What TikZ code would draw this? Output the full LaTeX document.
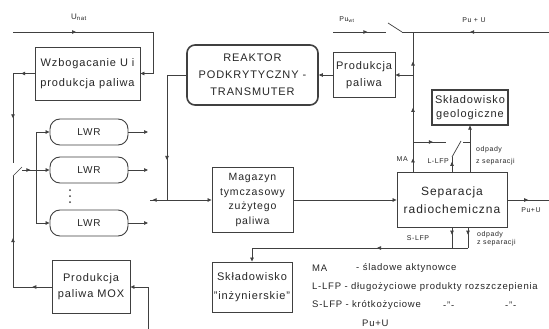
\documentclass[tikz,border=0pt]{standalone}
\usepackage{fontspec}
\setmainfont{Liberation Sans}[LetterSpace=8]
\usetikzlibrary{arrows.meta,decorations.markings}
\tikzset{
  ln/.style={draw=black!75, line width=0.7pt},
  tip/.style={-{Triangle[length=4pt,width=3.5pt]}},
  boxn/.style={draw=black!75, line width=0.9pt, align=center, inner sep=0pt, text=black!85},
  ar/.style={postaction={decorate,decoration={markings,mark=at position #1 with {\arrow{Triangle[length=4pt,width=3.5pt]}}}}},
  lbl/.style={inner sep=0pt, text=black!85, font=\fontsize{7}{8}\selectfont},
  leg/.style={inner sep=0pt, anchor=west, text=black!85, font=\fontsize{9.5}{11}\selectfont},
}
\begin{document}
\begin{tikzpicture}[x=1pt,y=-1pt]
\useasboundingbox (0,0) rectangle (549,329);
\fill[white] (0,0) rectangle (549,329);
% boxes
\node[boxn, minimum width=105pt, minimum height=53pt, font=\fontsize{11}{20}\selectfont] (wz) at (87.5,73.5) {Wzbogacanie U i\\produkcja paliwa};
\node[boxn, rounded corners=8pt, line width=1.6pt, minimum width=131pt, minimum height=60pt, font=\fontsize{11}{17}\selectfont] (rk) at (252.5,75) {REAKTOR\\PODKRYTYCZNY -\\TRANSMUTER};
\node[boxn, minimum width=62pt, minimum height=45pt, font=\fontsize{11}{17}\selectfont] (prod) at (364,75) {Produkcja\\paliwa};
\node[boxn, line width=1.2pt, minimum width=76pt, minimum height=35pt, font=\fontsize{11}{14}\selectfont] (geo) at (470,107.5) {Składowisko\\geologiczne};
\node[boxn, rounded corners=10pt, minimum width=78pt, minimum height=26pt, font=\fontsize{10}{12}\selectfont] (lwr1) at (89,132) {LWR};
\node[boxn, rounded corners=10pt, minimum width=78pt, minimum height=26pt, font=\fontsize{10}{12}\selectfont] (lwr2) at (89,170) {LWR};
\node[boxn, rounded corners=10pt, minimum width=78pt, minimum height=26pt, font=\fontsize{10}{12}\selectfont] (lwr3) at (89,223) {LWR};
\node[boxn, minimum width=81pt, minimum height=65pt, font=\fontsize{10.5}{14.5}\selectfont] (mag) at (252.5,200) {Magazyn\\tymczasowy\\zużytego\\paliwa};
\node[boxn, minimum width=110pt, minimum height=55pt, font=\fontsize{12}{18}\selectfont] (sep) at (452,200) {Separacja\\radiochemiczna};
\node[boxn, minimum width=80pt, minimum height=50pt, font=\fontsize{11}{19}\selectfont] (inz) at (252,287) {Składowisko\\"inżynierskie"};
\node[boxn, minimum width=78pt, minimum height=53pt, font=\fontsize{11}{16}\selectfont] (mox) at (91,287) {Produkcja\\paliwa MOX};
% dots
\fill[black!75] (70,190) circle (1pt) (70,196) circle (1pt) (70,202) circle (1pt);
% U_nat
\coordinate (u0) at (13,32); \coordinate (u1) at (153,32);
\draw[ln, ar=0.45] (u0) -- (u1);
\draw[ln, tip] (u1) |- (wz.east);
\node[lbl, font=\fontsize{8}{9}\selectfont] (unat) at (79,17) {U\textsubscript{nat}};
% left loop
\coordinate (l0) at (13,73.5); \coordinate (sw1) at (13,163);
\draw[ln, ar=0.62] (wz.west) -- (l0);
\draw[ln, ar=0.5] (l0) -- (sw1);
\coordinate (sw2) at (13,176); \coordinate (swt) at (22,167);
\draw[ln] (sw2) -- (swt);
\coordinate (h0) at (22,170); \coordinate (bus2) at (36,170);
\draw[ln, ar=0.6] (h0) -- (bus2);
\coordinate (b1) at (36,132); \coordinate (b3) at (36,223);
\draw[ln] (b1) -- (b3);
\draw[ln, tip] (b1) -- (lwr1.west);
\draw[ln, tip] (bus2) -- (lwr2.west);
\draw[ln, tip] (b3) -- (lwr3.west);
\coordinate (o1) at (148,132); \coordinate (o2) at (148,170); \coordinate (o3) at (148,223);
\draw[ln, tip] (lwr1.east) -- (o1);
\draw[ln, tip] (lwr2.east) -- (o2);
\draw[ln, tip] (lwr3.east) -- (o3);
% reactor -> magazyn
\coordinate (r1) at (167,75); \coordinate (r2) at (167,200); \coordinate (r3) at (150,200);
\draw[ln] (rk.west) -- (r1);
\draw[ln, ar=0.68] (r1) -- (r2);
\draw[ln, tip] (r2) -- (mag.west);
\draw[ln, ar=0.85] (r2) -- (r3);
% magazyn -> separacja
\draw[ln, tip] (mag.east) -- (sep.west);
\coordinate (pr) at (549,200);
\draw[ln, ar=0.5] (sep.east) -- (pr);
\node[lbl] (lpu1) at (531,210) {Pu+U};
% MA line
\coordinate (mt) at (413,32); \coordinate (ma0) at (413,172.5);
\draw[ln, ar=0.1, ar=0.46, ar=0.79] (ma0) -- (mt);
\coordinate (pj) at (413,75);
\draw[ln, tip] (pj) -- (prod.east);
\draw[ln, tip] (prod.west) -- (rk.east);
% Pu top line
\coordinate (p0) at (333,32); \coordinate (p1) at (386,32); \coordinate (sw3) at (402,32); \coordinate (swb) at (388,23);
\draw[ln, ar=0.65] (p0) -- (p1);
\draw[ln] (sw3) -- (swb);
\draw[ln] (sw3) -- (mt);
\coordinate (pe) at (549,32);
\draw[ln, ar=0.58] (pe) -- (mt);
\node[lbl] (lpuw) at (347,20) {Pu\textsubscript{wt}};
\node[lbl] (lpu2) at (474,20) {Pu + U};
% L-LFP switch
\coordinate (l1) at (452,172.5); \coordinate (l2) at (452,157); \coordinate (l3) at (461,141);
\draw[ln, ar=0.69] (l1) -- (l2);
\draw[ln] (l2) -- (l3);
\coordinate (mh) at (413,142); \coordinate (mh2) at (446,142);
\draw[ln, ar=0.6] (mh) -- (mh2);
\coordinate (g0) at (470,172.5); \coordinate (g1) at (463,142); \coordinate (g2) at (470,142);
\draw[ln, tip] (g0) -- (geo.south -| g0);
\draw[ln] (g1) -- (g2);
\node[lbl, anchor=east] (lma) at (408,159) {MA};
\node[lbl, anchor=east] (lllfp) at (449,161) {L-LFP};
\node[lbl, anchor=west, align=left, font=\fontsize{7}{12}\selectfont] (lodp1) at (476,156) {odpady\\z separacji};
% bottom
\coordinate (s1) at (452,227.5); \coordinate (s2) at (452,248);
\coordinate (s3) at (468,227.5); \coordinate (s4) at (468,248);
\coordinate (s5) at (252,248);
\draw[ln, ar=0.35] (s1) -- (s2);
\draw[ln, ar=0.35] (s3) -- (s4);
\draw[ln] (s4) -- (s2);
\draw[ln, ar=0.375] (s2) -- (s5);
\draw[ln, tip] (s5) -- (inz.north);
\node[lbl] (lslfp) at (418,238) {S-LFP};
\node[lbl, anchor=west, align=left, font=\fontsize{7}{8}\selectfont] (lodp2) at (477,239) {odpady\\z separacji};
% MOX
\coordinate (m0) at (148,329); \coordinate (m1) at (148,287); \coordinate (m2) at (13,287);
\draw[ln] (m0) -- (m1);
\draw[ln, tip] (m1) -- (mox.east);
\draw[ln, ar=0.5] (mox.west) -- (m2);
\draw[ln, ar=0.44] (m2) -- (sw2);
% legend
\node[leg] (lg1a) at (312,268) {MA};
\node[leg] (lg1b) at (356,268) {- śladowe aktynowce};
\node[leg] (lg2) at (312,287) {L-LFP - długożyciowe produkty rozszczepienia};
\node[leg] (lg3) at (312,305) {S-LFP - krótkożyciowe};
\node[leg] (lg3b) at (443,305) {-"-};
\node[leg] (lg3c) at (505,305) {-"-};
\node[leg] (lg4) at (362,323) {Pu+U};
\end{tikzpicture}
\end{document}
